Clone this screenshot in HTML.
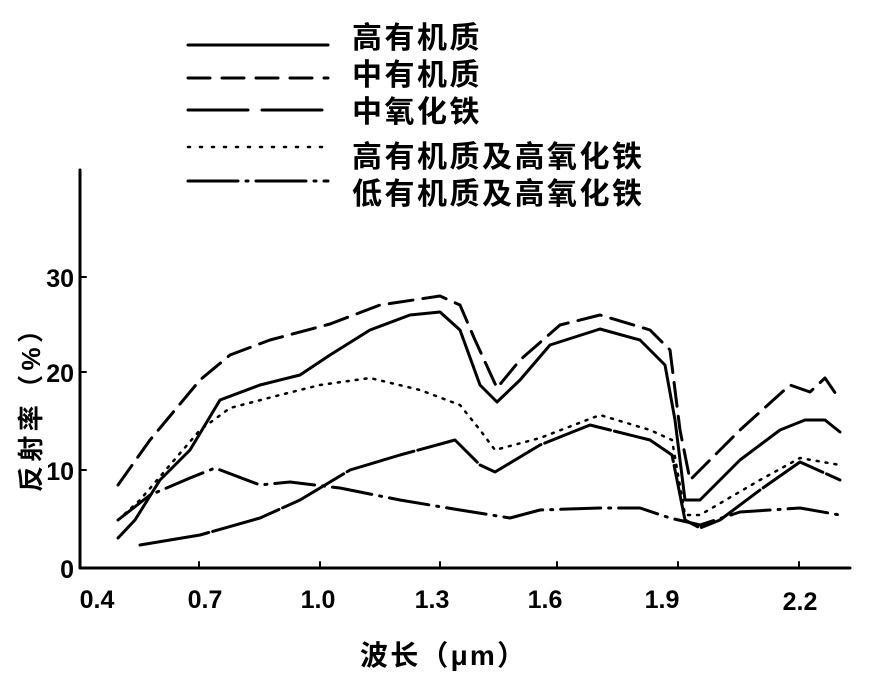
<!DOCTYPE html>
<html><head><meta charset="utf-8"><style>
body{margin:0;background:#fff}
svg text{font-family:"Liberation Sans","Noto Sans CJK SC",sans-serif;font-weight:bold;fill:#000}
</style></head><body>
<svg width="870" height="680" viewBox="0 0 870 680">
<g stroke="#000" stroke-width="3" fill="none" stroke-linejoin="round" stroke-linecap="round">
<path d="M80,170 V568 H850"/>
<path d="M80,277h6M80,372h6M80,470h6M199,568v-6M320,568v-6M440,568v-6M557,568v-6M678,568v-6M799,568v-6" stroke-width="2"/>
<line x1="188" y1="45" x2="328" y2="45"/>
<line x1="188" y1="78" x2="328" y2="78" stroke-dasharray="22 12"/>
<line x1="188" y1="110" x2="328" y2="110" stroke-dasharray="60 14"/>
<line x1="188" y1="147" x2="328" y2="147" stroke-dasharray="2 10" stroke-width="2.5"/>
<line x1="188" y1="181" x2="328" y2="181" stroke-dasharray="50 8 2 8"/>
<path d="M118,538 L135,520 L160,480 L190,450 L220,400 L260,385 L300,375 L330,355 L370,330 L410,315 L440,312 L460,330 L480,385 L497,402 L520,380 L550,345 L600,329 L640,340 L665,365 L675,420 L685,500 L700,500 L740,460 L780,430 L805,420 L825,420 L840,432"/>
<path d="M118,485 L150,440 L200,380 L230,355 L270,340 L330,324 L380,305 L440,296 L460,305 L475,340 L497,388 L520,360 L560,325 L600,315 L650,330 L670,350 L680,430 L690,480 L700,470 L740,430 L790,385 L810,392 L825,378 L840,400" stroke-dasharray="24 10"/>
<path d="M140,545 L200,535 L260,518 L300,500 L350,470 L400,455 L455,440 L480,465 L495,472 L540,445 L590,425 L650,440 L672,455 L685,520 L700,528 L720,520 L760,490 L800,462 L840,480" stroke-dasharray="70 4"/>
<path d="M118,520 L140,500 L200,430 L230,408 L280,395 L320,385 L370,378 L420,390 L460,405 L480,430 L495,450 L540,438 L600,415 L650,430 L672,440 L685,515 L700,515 L760,480 L800,458 L840,465" stroke-dasharray="2 7" stroke-width="2.5"/>
<path d="M118,520 L150,495 L190,478 L215,468 L260,485 L290,482 L340,488 L400,500 L460,510 L510,518 L540,510 L600,508 L640,508 L670,518 L700,525 L740,512 L800,508 L840,515" stroke-dasharray="40 8 2 8"/>
</g>
<g font-size="30" letter-spacing="2.5">
<text x="352" y="48">高有机质</text>
<text x="352" y="85">中有机质</text>
<text x="352" y="122">中氧化铁</text>
<text x="352" y="167">高有机质及高氧化铁</text>
<text x="352" y="204">低有机质及高氧化铁</text>
</g>
<g font-size="25" text-anchor="end">
<text x="74" y="287">30</text><text x="74" y="382">20</text><text x="74" y="480">10</text><text x="74" y="578">0</text>
</g>
<g font-size="25" text-anchor="middle">
<text x="97" y="608">0.4</text><text x="205" y="608">0.7</text><text x="318" y="608">1.0</text><text x="432" y="608">1.3</text><text x="545" y="608">1.6</text><text x="662" y="608">1.9</text><text x="800" y="610">2.2</text>
</g>
<text x="360" y="665" font-size="28" textLength="165">波长（μm）</text>
<text transform="translate(40,492) rotate(-90)" font-size="26" textLength="175">反射率（%）</text>
</svg>
</body></html>
